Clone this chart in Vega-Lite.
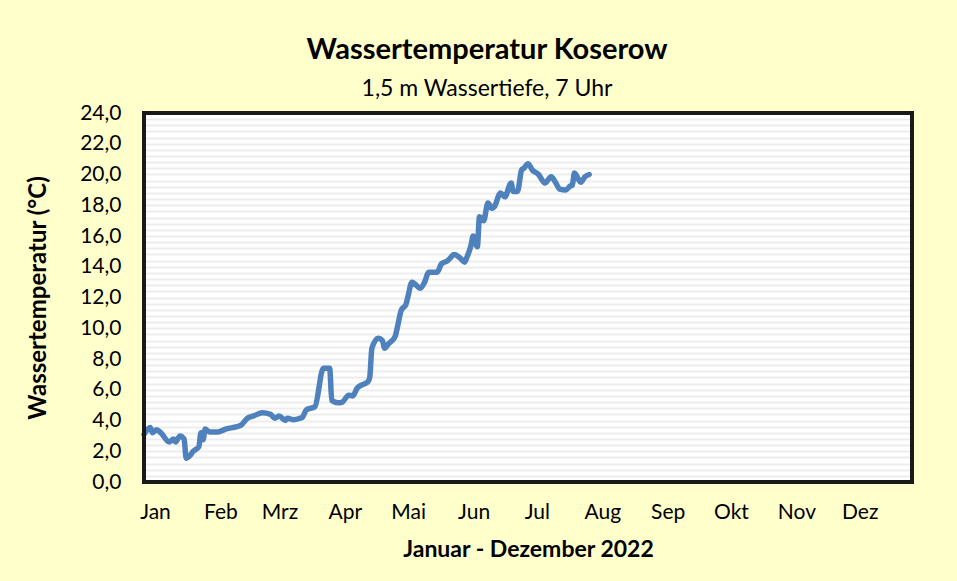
{
  "$schema": "https://vega.github.io/schema/vega-lite/v6.json",
  "autosize": "none",
  "width": 768,
  "height": 369,
  "padding": {"left": 144, "top": 113, "right": 45, "bottom": 99},
  "background": "#FFFFCC",
  "title": {
    "text": "Wassertemperatur Koserow",
    "subtitle": "1,5 m Wassertiefe, 7 Uhr",
    "anchor": "middle",
    "frame": "group",
    "dx": -41,
    "offset": 1,
    "font": "Lato",
    "fontSize": 29,
    "fontWeight": "bold",
    "color": "#000000",
    "subtitleFont": "Lato",
    "subtitleFontSize": 23,
    "subtitleColor": "#000000",
    "subtitlePadding": 13
  },
  "config": {
    "view": {"fill": "#FFFFFF", "stroke": null},
    "axis": {"labelFont": "Lato", "titleFont": "Lato", "labelColor": "#000000", "titleColor": "#000000"}
  },
  "data": {
    "values": [
      {"date": "2022-01-01", "temp": 3.1},
      {"date": "2022-01-04", "temp": 3.55},
      {"date": "2022-01-05", "temp": 3.2},
      {"date": "2022-01-07", "temp": 3.4},
      {"date": "2022-01-09", "temp": 3.2},
      {"date": "2022-01-13", "temp": 2.6},
      {"date": "2022-01-15", "temp": 2.8},
      {"date": "2022-01-16", "temp": 2.6},
      {"date": "2022-01-18", "temp": 3.0},
      {"date": "2022-01-20", "temp": 2.8},
      {"date": "2022-01-21", "temp": 1.55},
      {"date": "2022-01-23", "temp": 1.75},
      {"date": "2022-01-24", "temp": 1.95},
      {"date": "2022-01-27", "temp": 2.3},
      {"date": "2022-01-28", "temp": 3.2},
      {"date": "2022-01-29", "temp": 2.75},
      {"date": "2022-01-30", "temp": 3.45},
      {"date": "2022-02-01", "temp": 3.25},
      {"date": "2022-02-05", "temp": 3.25},
      {"date": "2022-02-09", "temp": 3.45},
      {"date": "2022-02-14", "temp": 3.6},
      {"date": "2022-02-16", "temp": 3.7},
      {"date": "2022-02-19", "temp": 4.15},
      {"date": "2022-02-22", "temp": 4.3},
      {"date": "2022-02-26", "temp": 4.5},
      {"date": "2022-03-02", "temp": 4.4},
      {"date": "2022-03-04", "temp": 4.15},
      {"date": "2022-03-06", "temp": 4.3},
      {"date": "2022-03-09", "temp": 4.0},
      {"date": "2022-03-10", "temp": 4.15},
      {"date": "2022-03-13", "temp": 4.05},
      {"date": "2022-03-16", "temp": 4.15},
      {"date": "2022-03-17", "temp": 4.2},
      {"date": "2022-03-19", "temp": 4.7},
      {"date": "2022-03-23", "temp": 4.9},
      {"date": "2022-03-27", "temp": 7.4},
      {"date": "2022-03-30", "temp": 7.4},
      {"date": "2022-03-31", "temp": 5.3},
      {"date": "2022-04-03", "temp": 5.15},
      {"date": "2022-04-05", "temp": 5.2},
      {"date": "2022-04-08", "temp": 5.65},
      {"date": "2022-04-10", "temp": 5.6},
      {"date": "2022-04-12", "temp": 6.1},
      {"date": "2022-04-14", "temp": 6.3},
      {"date": "2022-04-17", "temp": 6.5},
      {"date": "2022-04-18", "temp": 6.8},
      {"date": "2022-04-19", "temp": 8.7},
      {"date": "2022-04-22", "temp": 9.35},
      {"date": "2022-04-24", "temp": 9.2},
      {"date": "2022-04-25", "temp": 8.7},
      {"date": "2022-04-27", "temp": 9.0},
      {"date": "2022-04-30", "temp": 9.45},
      {"date": "2022-05-01", "temp": 10.0},
      {"date": "2022-05-03", "temp": 11.2},
      {"date": "2022-05-05", "temp": 11.5},
      {"date": "2022-05-06", "temp": 12.0},
      {"date": "2022-05-08", "temp": 13.0},
      {"date": "2022-05-12", "temp": 12.6},
      {"date": "2022-05-14", "temp": 13.0},
      {"date": "2022-05-16", "temp": 13.65},
      {"date": "2022-05-20", "temp": 13.65},
      {"date": "2022-05-22", "temp": 14.2},
      {"date": "2022-05-25", "temp": 14.4},
      {"date": "2022-05-26", "temp": 14.55},
      {"date": "2022-05-28", "temp": 14.8},
      {"date": "2022-05-31", "temp": 14.55},
      {"date": "2022-06-02", "temp": 14.3},
      {"date": "2022-06-03", "temp": 14.6},
      {"date": "2022-06-05", "temp": 15.4},
      {"date": "2022-06-06", "temp": 16.0},
      {"date": "2022-06-08", "temp": 15.3},
      {"date": "2022-06-09", "temp": 17.25},
      {"date": "2022-06-11", "temp": 17.0},
      {"date": "2022-06-13", "temp": 18.15},
      {"date": "2022-06-15", "temp": 17.8},
      {"date": "2022-06-16", "temp": 17.9},
      {"date": "2022-06-19", "temp": 18.8},
      {"date": "2022-06-21", "temp": 18.55},
      {"date": "2022-06-24", "temp": 19.45},
      {"date": "2022-06-25", "temp": 18.9},
      {"date": "2022-06-27", "temp": 18.9},
      {"date": "2022-06-29", "temp": 20.3},
      {"date": "2022-06-30", "temp": 20.4},
      {"date": "2022-07-02", "temp": 20.7},
      {"date": "2022-07-04", "temp": 20.3},
      {"date": "2022-07-07", "temp": 20.0},
      {"date": "2022-07-10", "temp": 19.45},
      {"date": "2022-07-13", "temp": 19.85},
      {"date": "2022-07-15", "temp": 19.5},
      {"date": "2022-07-17", "temp": 19.05},
      {"date": "2022-07-20", "temp": 19.0},
      {"date": "2022-07-22", "temp": 19.25},
      {"date": "2022-07-23", "temp": 19.3},
      {"date": "2022-07-24", "temp": 20.1},
      {"date": "2022-07-27", "temp": 19.5},
      {"date": "2022-07-29", "temp": 19.85},
      {"date": "2022-07-31", "temp": 20.0}
    ]
  },
  "encoding": {
    "x": {
      "field": "date",
      "type": "temporal",
      "scale": {"type": "utc", "domain": [{"year": 2022, "month": 1, "date": 1, "utc": true}, {"year": 2022, "month": 12, "date": 31, "utc": true}]},
      "axis": {
        "title": "Januar - Dezember 2022",
        "titleFontSize": 23,
        "titleFontWeight": "bold",
        "titlePadding": 16,
        "tickCount": "month",
        "ticks": false,
        "tickSize": 0,
        "domain": false,
        "grid": false,
        "labelFontSize": 21,
        "labelPadding": 19,
        "labelAlign": "center",
        "labelOffset": 11,
        "labelOverlap": false,
        "labelFlush": false,
        "labelExpr": "['Jan','Feb','Mrz','Apr','Mai','Jun','Jul','Aug','Sep','Okt','Nov','Dez'][utcmonth(datum.value)]"
      }
    },
    "y": {
      "field": "temp",
      "type": "quantitative",
      "scale": {"domain": [0, 24], "nice": false, "zero": true},
      "axis": {
        "title": "Wassertemperatur (°C)",
        "titleFontSize": 24,
        "titleFontWeight": "bold",
        "titlePadding": 29,
        "values": [0,0.4,0.8,1.2,1.6,2,2.4,2.8,3.2,3.6,4,4.4,4.8,5.2,5.6,6,6.4,6.8,7.2,7.6,8,8.4,8.8,9.2,9.6,10,10.4,10.8,11.2,11.6,12,12.4,12.8,13.2,13.6,14,14.4,14.8,15.2,15.6,16,16.4,16.8,17.2,17.6,18,18.4,18.8,19.2,19.6,20,20.4,20.8,21.2,21.6,22,22.4,22.8,23.2,23.6,24],
        "labelExpr": "abs(round(datum.value / 2) * 2 - datum.value) < 0.01 ? replace(format(datum.value, '.1f'), '.', ',') : ''",
        "labelOverlap": false,
        "labelFlush": false,
        "labelFontSize": 21,
        "labelPadding": 23,
        "ticks": false,
        "tickSize": 0,
        "domain": false,
        "grid": true,
        "gridColor": "#EDEDED",
        "gridWidth": 2
      }
    }
  },
  "layer": [
    {
      "mark": {"type": "line", "color": "#4F81BD", "strokeWidth": 5.5, "strokeJoin": "round", "strokeCap": "round", "interpolate": "monotone"}
    },
    {
      "mark": {"type": "rect", "fill": null, "stroke": "#1A1A1A", "strokeWidth": 2.5},
      "encoding": {
        "x": {"datum": {"year": 2022, "month": 1, "date": 1, "utc": true}, "type": "temporal"},
        "x2": {"datum": {"year": 2022, "month": 12, "date": 31, "utc": true}},
        "y": {"datum": 0, "type": "quantitative"},
        "y2": {"datum": 24}
      }
    }
  ]
}
